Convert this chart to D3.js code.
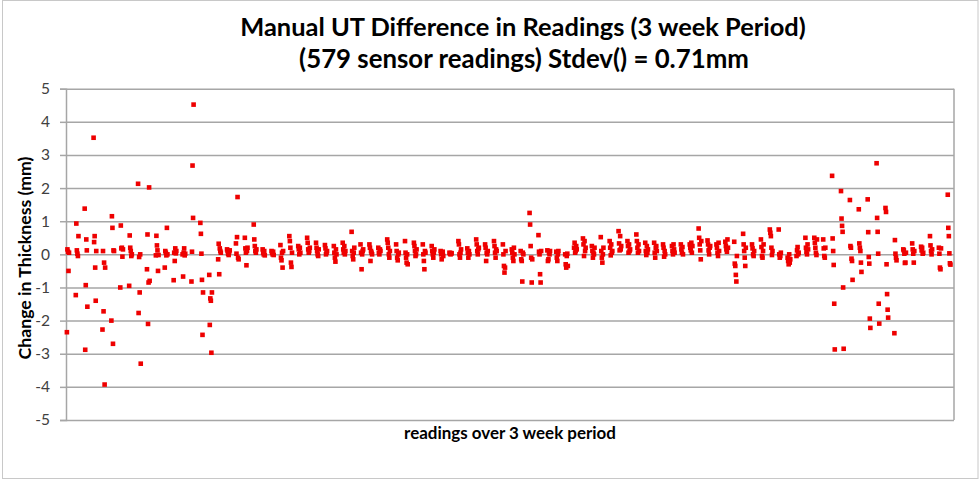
<!DOCTYPE html>
<html><head><meta charset="utf-8">
<script src="https://cdn.jsdelivr.net/npm/d3@7"></script>
<style>body{margin:0;background:#fff}</style>
</head><body>
<svg id="c" width="980" height="482"></svg>
<script>
// ---- data ----
const titleLines = ["Manual UT Difference in Readings (3 week Period)", "(579 sensor readings) Stdev() = 0.71mm"];
const yLabel = "Change in Thickness (mm)";
const xLabel = "readings over 3 week period";
const yTicks = [-5,-4,-3,-2,-1,0,1,2,3,4,5];
// readings grouped by measurement session (in order over the 3 weeks), change in thickness (mm)
const sessions = [
 [-2.35,0.15,0.08,-0.5,0.05],
 [-1.23,0.93,0.12,0.02,-0.05,0.55],
 [1.38,-2.88,-0.93,0.45,0.12,-1.58],
 [3.52,0.37,0.55,-0.4,-1.4,0.1],
 [-2.27,0.1,-1.72,-0.25,-3.93,-0.4],
 [-2.0,1.15,0.8,-2.7,0.12,0.1],
 [-1.0,0.87,0.18,0.2,-0.07,0.15],
 [-0.95,0.57,0.2,0.1,-0.05,0.0],
 [2.13,-1.77,-0.08,-1.15,0.0,-3.3],
 [-0.45,0.6,-2.1,-0.85,2.02,-0.8],
 [-0.03,0.56,0.27,0.12,-0.5,-0.02],
 [-0.4,0.1,0.05,-0.03,0.8,0.0],
 [-0.78,0.05,-0.2,0.18,0.03,0.1],
 [0.0,-0.67,0.05,0.18,-0.03,0.02],
 [-0.82,0.08,2.68,1.1,4.52],
 [0.95,0.62,0.02,-0.77,-2.43,-1.15],
 [-0.62,-2.13,-1.33,-1.4,-2.97,-1.15],
 [-0.15,0.32,-0.6,0.18,0.1,0.05],
 [0.15,0.1,0.02,-0.02,0.07,0.12],
 [0.33,0.02,0.52,1.73,-0.1,-0.15],
 [0.5,0.18,0.05,-0.33,0.1,0.2],
 [0.9,0.45,0.25,0.1,0.05,0.15],
 [0.15,0.05,0.0,0.1,-0.03],
 [0.1,0.05,0.0,0.08,-0.02],
 [0.28,-0.1,-0.18,0.05,-0.4,0.1],
 [0.55,0.4,0.2,-0.25,-0.38,0.05],
 [0.25,0.15,0.0,0.2,0.05],
 [0.5,0.35,0.15,0.05,0.1,0.2],
 [0.35,0.2,0.1,0.0,-0.05,0.15],
 [0.28,0.18,0.0,0.05,0.1],
 [0.25,0.05,-0.1,-0.22,0.15,0.0],
 [0.35,0.15,0.05,0.25,0.0,0.1],
 [0.68,0.1,-0.05,-0.15,0.05,0.2],
 [0.3,0.05,-0.45,0.0,0.1,0.15],
 [0.3,0.2,-0.2,0.1,0.05,0.0],
 [0.2,0.05,0.0,0.15,0.1],
 [0.45,0.35,0.2,0.0,-0.1,0.1],
 [0.3,0.1,-0.1,-0.18,0.0,0.05],
 [0.4,0.05,-0.1,-0.25,0.0,-0.3],
 [0.35,0.25,0.1,-0.05,0.0,0.15],
 [0.3,0.0,-0.2,-0.45,0.1,0.05],
 [0.25,0.1,0.0,-0.1,0.05,0.15],
 [0.1,0.0,-0.15,0.05,0.08,-0.05],
 [0.05,0.02,0.0,0.04,0.03],
 [0.4,0.3,0.0,-0.1,0.05,0.15],
 [0.18,0.05,-0.1,0.1,0.0],
 [0.45,0.3,0.1,0.0,0.15,0.2],
 [0.3,0.2,-0.2,0.05,0.0,0.1],
 [0.4,0.25,0.05,-0.1,0.15,0.1],
 [0.3,0.0,-0.35,-0.55,-0.4,0.1],
 [0.15,0.05,-0.1,-0.2,0.2,0.0],
 [0.1,-0.15,-0.2,-0.82,0.05,0.0],
 [1.25,0.9,0.25,-0.1,-0.85,-0.15],
 [0.58,0.08,0.0,-0.6,-0.85,0.1],
 [0.12,-0.2,-0.15,0.05,0.0,0.1],
 [0.08,-0.1,-0.2,0.0,0.1],
 [0.0,-0.3,-0.4,-0.05,0.02,-0.35],
 [0.2,0.35,0.05,0.1,0.25,0.15],
 [0.48,0.3,-0.05,0.4,0.1,0.2],
 [0.25,0.1,-0.1,0.05,0.0,0.2],
 [0.52,0.1,-0.1,-0.25,0.0,0.2],
 [0.4,0.2,-0.03,0.3,0.05,0.1],
 [0.7,0.33,0.12,0.55,0.15,0.25],
 [0.4,0.25,0.05,0.3,0.1,0.15],
 [0.6,0.4,0.2,0.05,0.3,0.1],
 [0.35,0.1,-0.02,0.25,0.05,0.15],
 [0.35,0.05,-0.1,0.2,0.25,0.1],
 [0.3,0.2,-0.07,0.1,0.0],
 [0.25,0.1,0.0,0.3,0.15,0.05],
 [0.3,0.15,0.05,0.22,0.0],
 [0.3,0.2,0.12,0.35,0.05,0.25],
 [0.78,0.5,0.3,0.12,-0.15,0.4],
 [0.42,0.3,0.12,0.0,0.2,0.25],
 [0.3,0.2,0.05,-0.05,0.35,0.1],
 [0.38,0.25,0.15,0.08,0.45,0.2],
 [0.38,-0.28,-0.35,-0.62,-0.82,-0.05],
 [0.62,0.3,0.1,-0.1,-0.35,0.2],
 [0.3,0.18,0.0,-0.05,0.1],
 [0.45,0.22,-0.05,-0.1,0.1,0.3],
 [0.75,0.65,0.55,0.2,-0.02,0.1],
 [0.75,0.0,-0.1,-0.05,0.05],
 [-0.1,-0.2,-0.3,0.0,-0.25,-0.15],
 [-0.05,0.12,0.22,0.0,0.05],
 [0.5,0.2,0.08,0.0,0.3,0.15],
 [0.5,0.35,0.2,0.05,-0.02,0.45],
 [0.45,0.18,-0.05,-0.1,0.2],
 [2.37,0.48,0.1,-0.32,-1.49,-2.87],
 [1.91,1.08,0.86,0.68,-1.0,-2.85],
 [1.64,0.25,0.2,-0.13,-0.2,-0.77],
 [1.36,0.33,0.2,0.1,-0.25,-0.53],
 [1.66,0.67,-0.08,-0.28,-1.94,-2.22],
 [2.75,1.1,0.68,0.02,-1.49,-2.09],
 [1.4,1.28,-0.3,-1.2,-1.67,-1.91],
 [-2.38,0.43,0.02,-0.1,-0.18],
 [0.15,0.12,0.02,-0.26,-0.25,0.05],
 [0.33,0.15,0.02,-0.25,0.1],
 [0.23,0.12,0.2,0.02,0.05],
 [0.55,0.27,0.1,0.0,0.15],
 [0.2,0.02,-0.4,-0.45,0.18],
 [1.8,0.8,0.55,0.03,-0.27,-0.31]
];

// ---- chart ----
const svg = d3.select("#c");
const FONT = "Lato, 'Open Sans', 'Liberation Sans', sans-serif";
const plot = {left: 66, right: 954, top: 88.7, bottom: 420};
const x = d3.scaleLinear().domain([-0.1, 99.7]).range([plot.left, plot.right]);
const y = d3.scaleLinear().domain([-5, 5]).range([plot.bottom, plot.top]);

// outer chart frame
svg.append("rect").attr("x", 2.5).attr("y", 0.5).attr("width", 975.5).attr("height", 478)
  .attr("fill", "#fff").attr("stroke", "#c8c8c8").attr("stroke-width", 1);

// gridlines
const grid = svg.append("g").attr("transform", `translate(${plot.left},0)`)
  .call(d3.axisLeft(y).tickValues(yTicks).tickSize(-(plot.right - plot.left)).tickFormat(""));
grid.select(".domain").remove();
grid.selectAll("line").attr("stroke", "#a6a6a6").attr("stroke-width", 1.5);

// plot border (right side)
svg.append("line").attr("x1", plot.right).attr("x2", plot.right).attr("y1", plot.top).attr("y2", plot.bottom)
  .attr("stroke", "#a6a6a6").attr("stroke-width", 1.5);

// y axis
const ya = svg.append("g").attr("transform", `translate(${plot.left},0)`)
  .call(d3.axisLeft(y).tickValues(yTicks).tickSize(6).tickPadding(10).tickFormat(d => String(d)));
ya.select(".domain").attr("stroke", "#a6a6a6").attr("stroke-width", 1.5);
ya.selectAll(".tick line").attr("stroke", "#a6a6a6").attr("stroke-width", 1.5);
ya.selectAll(".tick text").attr("font-family", FONT).attr("font-size", 15.5).attr("fill", "#404040");

// points
const pts = [];
sessions.forEach((vals, k) => vals.forEach((v, j) => pts.push({t: k + j * 0.06, v})));
svg.append("g").selectAll("rect").data(pts).join("rect")
  .attr("x", d => x(d.t) - 2.3).attr("y", d => y(d.v) - 2.3)
  .attr("width", 4.6).attr("height", 4.6).attr("fill", "#ee0000");

function fit(sel, target) {
  const w = sel.node().getComputedTextLength();
  const fs = parseFloat(sel.attr("font-size"));
  sel.attr("font-size", fs * target / w);
}

// titles
const t1 = svg.append("text").attr("x", 523).attr("y", 36).attr("text-anchor", "middle")
  .attr("font-family", FONT).attr("font-weight", "bold").attr("font-size", 22).attr("fill", "#000").text(titleLines[0]);
fit(t1, 566);
const t2 = svg.append("text").attr("x", 524).attr("y", 68).attr("text-anchor", "middle")
  .attr("font-family", FONT).attr("font-weight", "bold").attr("font-size", 22).attr("fill", "#000").text(titleLines[1]);
fit(t2, 450);

// axis titles
const yl = svg.append("text").attr("transform", "translate(31,258) rotate(-90)").attr("text-anchor", "middle")
  .attr("font-family", FONT).attr("font-weight", "bold").attr("font-size", 15).attr("fill", "#000").text(yLabel);
fit(yl, 203);
const xl = svg.append("text").attr("x", 510).attr("y", 439).attr("text-anchor", "middle")
  .attr("font-family", FONT).attr("font-weight", "bold").attr("font-size", 15).attr("fill", "#000").text(xLabel);
fit(xl, 212);
</script>
</body></html>
